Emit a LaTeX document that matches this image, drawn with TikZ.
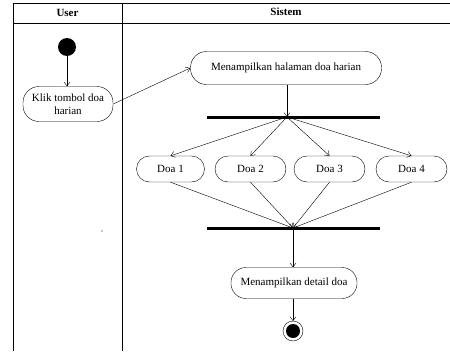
\documentclass[tikz,border=0pt]{standalone}
\usepackage{fontspec}
\setmainfont{Liberation Serif}
\usetikzlibrary{arrows.meta}

\tikzset{
  act/.style={draw, rounded corners=13pt, minimum height=29pt, inner sep=2pt, font=\fontsize{11}{12}\selectfont, align=center},
  bar/.style={line width=3pt},
  flow/.style={-{Straight Barb[length=4pt,width=6pt]}, thin}
}

\begin{document}
\begin{tikzpicture}[x=1pt, y=-1pt] %aktivitas doa harian
\useasboundingbox (0,0) rectangle (450,351);
% swimlanes
\draw (13,351) -- (13,3) -- (450,3);
\draw (13,23) -- (450,23);
\draw (122,3) -- (122,351);
\node[font=\bfseries\fontsize{11}{12}\selectfont] (user) at (67.5,13) {User};
\node[font=\bfseries\fontsize{11}{12}\selectfont] (sistem) at (286,12) {Sistem};
% nodes
\fill (67,47) circle (9);
\coordinate (start) at (67,47);
\node[act, minimum width=90pt, minimum height=35pt, rounded corners=16pt, inner sep=1pt, font=\fontsize{11}{13}\selectfont] (klik) at (68,104) {Klik tombol doa\\harian};
\node[act, minimum width=191pt, minimum height=33pt, rounded corners=16pt] (halaman) at (286,68) {Menampilkan halaman doa harian};
\draw[bar] (207,117) -- (380,117);
\coordinate (fork) at (287,117);
\node[act, minimum width=68pt, minimum height=26pt] (doa1) at (170.5,169) {Doa 1};
\node[act, minimum width=71pt, minimum height=26pt] (doa2) at (250.5,169) {Doa 2};
\node[act, minimum width=71pt, minimum height=26pt] (doa3) at (329.5,169) {Doa 3};
\node[act, minimum width=71pt, minimum height=26pt] (doa4) at (411.5,169) {Doa 4};
\draw[bar] (207,228) -- (380,228);
\coordinate (join) at (293,228);
\node[act, minimum width=126pt, minimum height=31pt, rounded corners=15pt] (detail) at (294,283) {Menampilkan detail doa};
\draw (293,331) circle (10);
\fill (293,331) circle (7);
\coordinate (end) at (293,321);
\fill (102,231) circle (0.7);
% connectors
\draw[flow] (start) ++(0,9) -- (klik.north -| start);
\draw[flow] (klik.east) -- (halaman.west);
\draw[flow] (halaman.south -| fork) -- (fork);
\foreach \d in {doa1,doa2,doa3,doa4}
  \draw[flow] (fork) -- (\d.north);
\foreach \d in {doa1,doa2,doa3,doa4}
  \draw[flow] (\d.south) -- (join);
\draw[flow] (join) -- (detail.north -| join);
\draw[flow] (detail.south -| join) -- (end);
\end{tikzpicture}
\end{document}
